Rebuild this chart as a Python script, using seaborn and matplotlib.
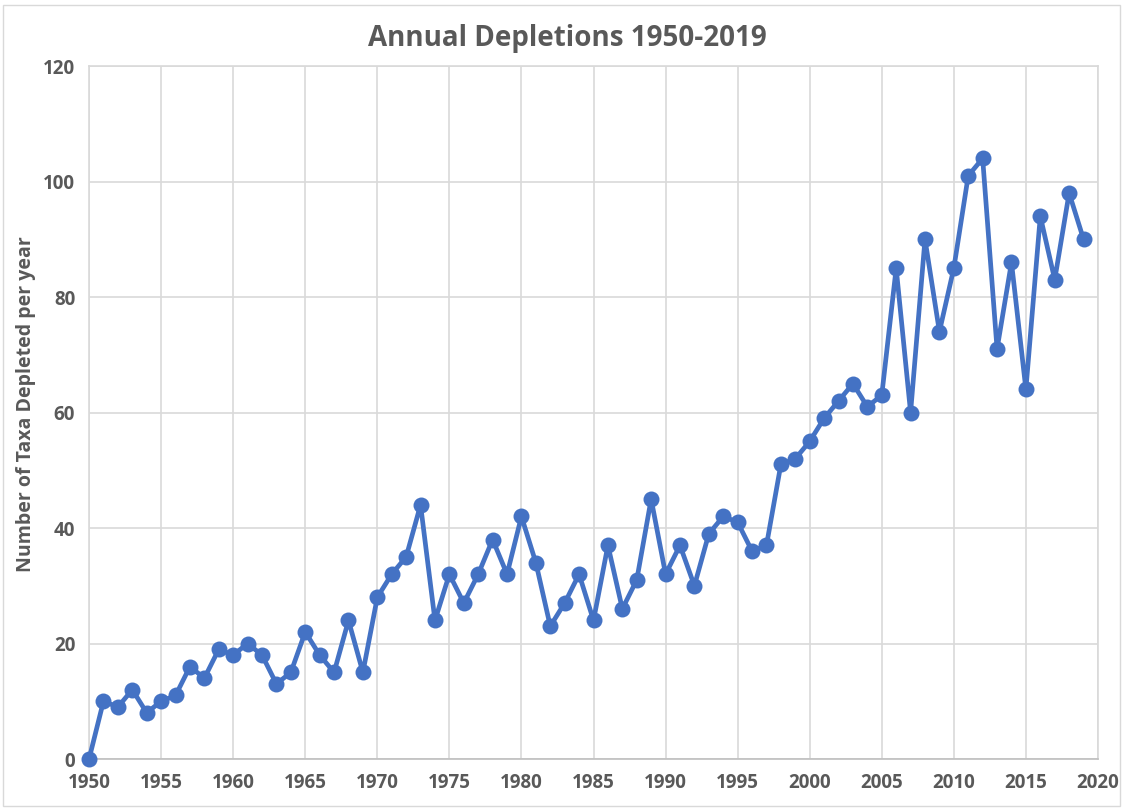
import numpy as np
import pandas as pd
import matplotlib
matplotlib.use("Agg")
import matplotlib.pyplot as plt
import seaborn as sns
from matplotlib.patches import Rectangle

years = list(range(1950, 2020))
depletions = [0, 10, 9, 12, 8, 10, 11, 16, 14, 19,
              18, 20, 18, 13, 15, 22, 18, 15, 24, 15,
              28, 32, 35, 44, 24, 32, 27, 32, 38, 32,
              42, 34, 23, 27, 32, 24, 37, 26, 31, 45,
              32, 37, 30, 39, 42, 41, 36, 37, 51, 52,
              55, 59, 62, 65, 61, 63, 85, 60, 90, 74,
              85, 101, 104, 71, 86, 64, 94, 83, 98, 90]
x_ticks = list(range(1950, 2021, 5))
y_ticks = list(range(0, 121, 20))

df = pd.DataFrame({"Year": years, "Depletions": depletions})

sns.set_style("white")
plt.rcParams['font.family'] = ['Open Sans', 'DejaVu Sans']
txt = '#595959'
grid = '#d9d9d9'

fig = plt.figure(figsize=(11.23, 8.09), dpi=100)
ax = fig.add_axes([0.0793, 0.0618, 0.8984, 0.8566])

sns.lineplot(data=df, x="Year", y="Depletions", ax=ax, color='#4472C4',
             linewidth=3.4, marker='o', markersize=11.5, markeredgewidth=0,
             clip_on=False, zorder=3)

ax.set_xlim(1950, 2020)
ax.set_ylim(0, 120)
ax.set_xticks(x_ticks)
ax.set_yticks(y_ticks)
ax.grid(True, color=grid, linewidth=1.2)
ax.set_axisbelow(True)
for s in ax.spines.values():
    s.set_color(grid)
    s.set_linewidth(1.2)
ax.spines['bottom'].set_color('#bfbfbf')
ax.tick_params(length=0, pad=10, labelsize=13.5, labelcolor=txt)
for lab in ax.get_xticklabels() + ax.get_yticklabels():
    lab.set_fontweight('bold')

ax.set_xlabel("")
ax.set_ylabel("")
fig.text(0.023, 0.50, "Number of Taxa Depleted per year", rotation=90,
         ha='center', va='center', fontsize=14, fontweight='bold', color=txt)
fig.text(0.505, 0.953, "Annual Depletions 1950-2019", ha='center', va='center',
         fontsize=20, fontweight='bold', color=txt)

fig.patches.append(Rectangle((0.003, 0.004), 0.994, 0.99, transform=fig.transFigure,
                             fill=False, edgecolor=grid, linewidth=1))

fig.savefig("out.png", dpi=100)
